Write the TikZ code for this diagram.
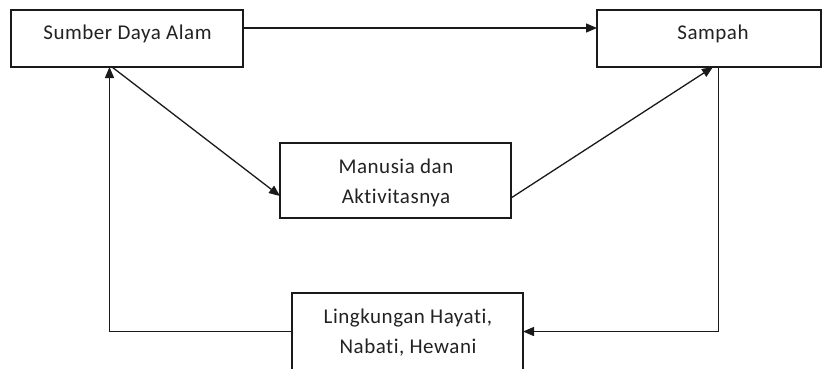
\documentclass[tikz,border=0pt]{standalone}
\usepackage{fontspec}
\setmainfont{Carlito}[Ligatures=NoCommon, LetterSpace=2.5]
\usetikzlibrary{arrows.meta}
\definecolor{linec}{HTML}{1A1A1A}
\definecolor{txtc}{HTML}{222222}
\begin{document}
\begin{tikzpicture}[x=1pt,y=1pt,
  box/.style={draw=linec, line width=1.4pt, fill=white, inner sep=0pt, outer sep=0pt},
  lbl/.style={text=txtc, inner sep=0pt, align=center, font=\fontsize{21}{30}\selectfont},
  conn/.style={draw=linec, line width=1.3pt},
  arr/.style={conn, -{Triangle[length=11pt,width=9pt]}}]
\useasboundingbox (0,0) rectangle (822,-368);
\fill[white] (0,0) rectangle (822,-368);
% boxes
\node[box, minimum width=232pt, minimum height=57pt] (sda) at (127,-38.5) {};
\node[box, minimum width=224pt, minimum height=57pt] (sampah) at (709,-38.5) {};
\node[box, minimum width=231pt, minimum height=75pt] (man) at (395.5,-180.5) {};
\node[box, minimum width=231pt, minimum height=77pt] (ling) at (407.5,-331.5) {};
% labels
\node[lbl, anchor=base] (tsda) at (127.5,-39) {Sumber Daya Alam};
\node[lbl, anchor=base] (tsampah) at (713,-39) {Sampah};
\node[lbl] (tman) at (396,-183) {Manusia dan\\Aktivitasnya};
\node[lbl] (tling) at (408,-332.5) {Lingkungan Hayati,\\Nabati, Hewani};
% connectors
\coordinate (ytop) at (0,-28);
\draw[arr] (sda.east |- ytop) -- (sampah.west |- ytop);
\draw[arr] ([xshift=-15pt]sda.south) -- ([yshift=-15.5pt]man.west);
\draw[arr] ([yshift=-17.5pt]man.east) -- ([xshift=4pt]sampah.south);
\draw[arr] ([xshift=9.5pt]sampah.south) |- (ling.east);
\draw[arr] (ling.west) -| ([xshift=-17.5pt]sda.south);
\end{tikzpicture}
\end{document}
